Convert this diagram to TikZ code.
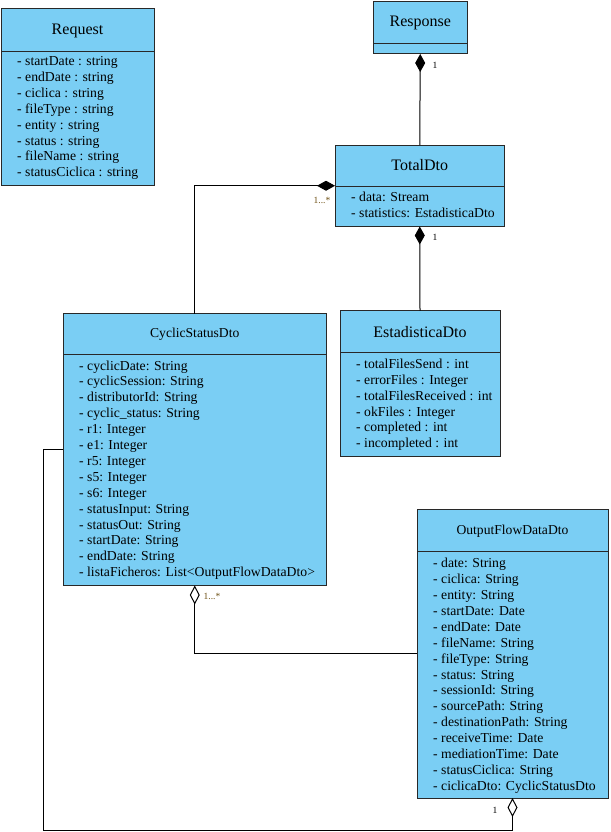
\documentclass[tikz,border=0pt]{standalone}
\usepackage{fontspec}
\setmainfont{Liberation Serif}
\usetikzlibrary{arrows.meta,calc}
\definecolor{classfill}{RGB}{122,206,244}
\definecolor{classedge}{RGB}{40,40,40}
\definecolor{multcol}{RGB}{110,80,20}

\begin{document}
\begin{tikzpicture}[x=1pt,y=-1pt,
  classbox/.style={draw=classedge, fill=classfill, line width=1pt, inner sep=0pt, outer sep=0pt, anchor=north west},
  bigtitle/.style={anchor=base, inner sep=0pt, font=\fontsize{16}{19}\selectfont},
  smalltitle/.style={anchor=base, inner sep=0pt, font=\fontsize{13.6}{16}\selectfont},
  attr/.style={anchor=base west, inner sep=0pt, font=\fontsize{13.7}{16}\selectfont},
  divider/.style={line width=1pt, draw=classedge},
  link/.style={line width=1pt, draw=black},
  comp/.style={link, {Diamond[length=18pt,width=10pt]}-},
  aggr/.style={link, {Diamond[open,length=19pt,width=10pt,fill=white]}-},
  mult/.style={inner sep=0pt, font=\fontsize{9.5}{11}\selectfont},
]
\useasboundingbox (0,0) rectangle (610,832);

% ---- class boxes ----
\node[classbox, minimum width=153pt, minimum height=176pt] (req) at (1,9) {};
\node[classbox, minimum width=94.5pt, minimum height=52.5pt] (resp) at (373,1.5) {};
\node[classbox, minimum width=169.5pt, minimum height=81.5pt] (total) at (335,145) {};
\node[classbox, minimum width=160pt, minimum height=145.5pt] (est) at (340,310.5) {};
\node[classbox, minimum width=263.5pt, minimum height=272pt] (cyc) at (63,313.5) {};
\node[classbox, minimum width=191pt, minimum height=289pt] (out) at (417,509) {};

% ---- compartment dividers ----
\draw[divider] ($(req.north west)+(0,42.5)$) -- ($(req.north east)+(0,42.5)$);
\draw[divider] ($(resp.north west)+(0,41.8)$) -- ($(resp.north east)+(0,41.8)$);
\draw[divider] ($(total.north west)+(0,41.7)$) -- ($(total.north east)+(0,41.7)$);
\draw[divider] ($(est.north west)+(0,42)$) -- ($(est.north east)+(0,42)$);
\draw[divider] ($(cyc.north west)+(0,40.5)$) -- ($(cyc.north east)+(0,40.5)$);
\draw[divider] ($(out.north west)+(0,42)$) -- ($(out.north east)+(0,42)$);

% ---- class names ----
\node[bigtitle] (req-t) at ($(req.north)+(0,26)$) {Request};
\node[bigtitle] (resp-t) at ($(resp.north)+(0,25.2)$) {Response};
\node[bigtitle] (total-t) at ($(total.north)+(0,25)$) {TotalDto};
\node[bigtitle] (est-t) at ($(est.north)+(0,26.5)$) {EstadisticaDto};
\node[smalltitle] (cyc-t) at ($(cyc.north)+(0,23.8)$) {CyclicStatusDto};
\node[smalltitle] (out-t) at ($(out.north)+(0,25)$) {OutputFlowDataDto};

% ---- attributes ----
\foreach \txt [count=\i from 0] in {- startDate : string, - endDate : string, - ciclica : string, - fileType : string, - entity : string, - status : string, - fileName : string, - statusCiclica : string}
  \node[attr] (req-a\i) at (17, 65.7+\i*15.87) {\txt};

\foreach \txt [count=\i from 0] in {- data: Stream, - statistics: EstadisticaDto}
  \node[attr] (total-a\i) at (351, 201+\i*16) {\txt};

\foreach \txt [count=\i from 0] in {- totalFilesSend : int, - errorFiles : Integer, - totalFilesReceived : int, - okFiles : Integer, - completed : int, - incompleted : int}
  \node[attr] (est-a\i) at (356, 368.3+\i*15.9) {\txt};

\foreach \txt [count=\i from 0] in {- cyclicDate: String, - cyclicSession: String, - distributorId: String, - cyclic\_status: String, - r1: Integer, - e1: Integer, - r5: Integer, - s5: Integer, - s6: Integer, - statusInput: String, - statusOut: String, - startDate: String, - endDate: String, - listaFicheros: List<OutputFlowDataDto>}
  \node[attr] (cyc-a\i) at (79, 370+\i*15.9) {\txt};

\foreach \txt [count=\i from 0] in {- date: String, - ciclica: String, - entity: String, - startDate: Date, - endDate: Date, - fileName: String, - fileType: String, - status: String, - sessionId: String, - sourcePath: String, - destinationPath: String, - receiveTime: Date, - mediationTime: Date, - statusCiclica: String, - ciclicaDto: CyclicStatusDto}
  \node[attr] (out-a\i) at (433, 567.7+\i*15.9) {\txt};

% ---- relationships ----
\draw[comp] (resp.south) -- (total.north);
\draw[comp] (total.west) -| (cyc.north);
\draw[comp] (total.south) -- (est.north);
\draw[aggr] (cyc.south) |- (out.west);
\coordinate (loopturn) at ($(cyc.west)+(-20,0)$);
\draw[aggr] (out.south) -- ++(0,32) -| (loopturn) -- (cyc.west);

% ---- multiplicities ----
\node[mult] (m-resp) at (435,65) {1};
\node[mult, text=multcol] (m-cyc) at (322,200) {1...*};
\node[mult] (m-est) at (435,237) {1};
\node[mult, text=multcol] (m-out) at (212,596) {1...*};
\node[mult] (m-loop) at (495,810) {1};
\end{tikzpicture}
\end{document}
